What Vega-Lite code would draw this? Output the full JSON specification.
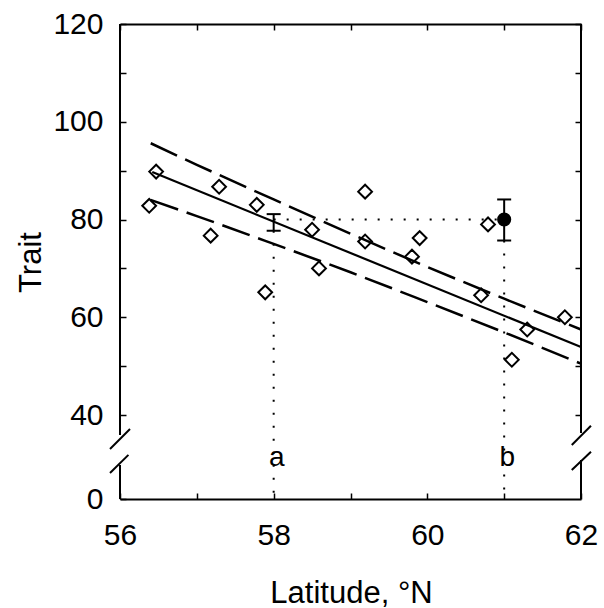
{
  "$schema": "https://vega.github.io/schema/vega-lite/v6.json",
  "width": 461,
  "height": 475,
  "autosize": {"type": "none"},
  "padding": {"left": 120, "top": 24, "right": 23, "bottom": 109},
  "background": "white",
  "config": {
    "view": {"stroke": null},
    "font": "Liberation Sans",
    "axis": {"domainColor": "black", "tickColor": "black", "labelColor": "black", "titleColor": "black", "grid": false, "labelFont": "Liberation Sans", "titleFont": "Liberation Sans"}
  },
  "datasets": {
    "populations": [
      {"latitude": 56.38, "trait": 82.8},
      {"latitude": 56.47, "trait": 89.8},
      {"latitude": 57.29, "trait": 86.7},
      {"latitude": 57.18, "trait": 76.7},
      {"latitude": 57.78, "trait": 83.0},
      {"latitude": 57.89, "trait": 65.1},
      {"latitude": 58.50, "trait": 77.9},
      {"latitude": 58.59, "trait": 70.0},
      {"latitude": 59.19, "trait": 85.7},
      {"latitude": 59.19, "trait": 75.5},
      {"latitude": 59.90, "trait": 76.2},
      {"latitude": 59.80, "trait": 72.4},
      {"latitude": 60.79, "trait": 79.0},
      {"latitude": 60.70, "trait": 64.5},
      {"latitude": 61.30, "trait": 57.5},
      {"latitude": 61.79, "trait": 60.0},
      {"latitude": 61.10, "trait": 51.3}
    ],
    "fit": [
      {"band": "fit", "latitude": 56.42, "trait": 89.7},
      {"band": "fit", "latitude": 62.0, "trait": 53.9},
      {"band": "upper", "latitude": 56.4, "trait": 95.6},
      {"band": "upper", "latitude": 57.0, "trait": 91.2},
      {"band": "upper", "latitude": 58.0, "trait": 84.1},
      {"band": "upper", "latitude": 59.0, "trait": 77.1},
      {"band": "upper", "latitude": 60.0, "trait": 70.3},
      {"band": "upper", "latitude": 61.0, "trait": 63.8},
      {"band": "upper", "latitude": 62.0, "trait": 57.5},
      {"band": "lower", "latitude": 56.4, "trait": 84.0},
      {"band": "lower", "latitude": 57.0, "trait": 80.7},
      {"band": "lower", "latitude": 58.0, "trait": 75.0},
      {"band": "lower", "latitude": 59.0, "trait": 69.2},
      {"band": "lower", "latitude": 60.0, "trait": 63.1},
      {"band": "lower", "latitude": 61.0, "trait": 56.9},
      {"band": "lower", "latitude": 62.0, "trait": 50.5}
    ],
    "guides": [
      {"latitude": 58, "latitude2": 61, "trait": 80, "trait2": 80},
      {"latitude": 58, "latitude2": 58, "trait": 77.7, "trait2": 0},
      {"latitude": 61, "latitude2": 61, "trait": 75.7, "trait2": 0}
    ],
    "estimates": [
      {"site": "a", "latitude": 58, "trait": 79.5, "lower": 77.7, "upper": 81.1},
      {"site": "b", "latitude": 61, "trait": 80, "lower": 75.7, "upper": 84.1}
    ],
    "labels": [
      {"site": "a", "latitude": 58, "trait": 15.8},
      {"site": "b", "latitude": 61, "trait": 15.8}
    ],
    "frame": [
      {"latitude": 56, "latitude2": 56, "trait": 0, "trait2": 16.2},
      {"latitude": 56, "latitude2": 56, "trait": 30.5, "trait2": 120},
      {"latitude": 62, "latitude2": 62, "trait": 0, "trait2": 18.6},
      {"latitude": 62, "latitude2": 62, "trait": 31.4, "trait2": 120},
      {"latitude": 55.87, "latitude2": 56.13, "trait": 23.8, "trait2": 33.3},
      {"latitude": 55.87, "latitude2": 56.11, "trait": 12.4, "trait2": 21.0},
      {"latitude": 61.88, "latitude2": 62.13, "trait": 25.7, "trait2": 34.9},
      {"latitude": 61.88, "latitude2": 62.13, "trait": 13.8, "trait2": 22.5}
    ]
  },
  "resolve": {"axis": {"x": "independent", "y": "independent"}},
  "layer": [
    {
      "data": {"name": "populations"},
      "mark": {"type": "point", "shape": "diamond", "filled": false, "size": 190, "stroke": "black", "strokeWidth": 2, "opacity": 1},
      "encoding": {
        "x": {"field": "latitude", "type": "quantitative", "scale": {"domain": [56, 62], "nice": false, "zero": false},
          "axis": {"orient": "bottom", "values": [56, 57, 58, 59, 60, 61, 62], "labelExpr": "datum.value % 2 === 0 ? datum.label : ''", "tickSize": -6, "tickWidth": 1.5, "domainWidth": 2, "labelPadding": 27, "labelFontSize": 30, "labelFlush": false, "labelOverlap": false, "title": "Latitude, °N", "titleFontSize": 31, "titleFontWeight": "normal", "titleX": 231, "titleY": 103, "titleBaseline": "alphabetic", "titleAlign": "center"}},
        "y": {"field": "trait", "type": "quantitative", "scale": {"domain": [0, 40, 120], "range": [475, 391, 0], "nice": false, "zero": false},
          "axis": {"orient": "left", "values": [0, 40, 50, 60, 70, 80, 90, 100, 110, 120], "labelExpr": "datum.value % 20 === 0 ? datum.label : ''", "tickSize": -6, "tickWidth": 1.5, "domain": false, "labelPadding": 23, "labelFontSize": 30, "labelFlush": false, "labelOverlap": false, "title": "Trait", "titleFontSize": 31, "titleFontWeight": "normal", "titleAngle": 270, "titleX": -80, "titleY": 238, "titleBaseline": "alphabetic", "titleAlign": "center"}}
      }
    },
    {
      "data": {"name": "fit"},
      "transform": [{"filter": "datum.band === 'fit'"}],
      "mark": {"type": "line", "stroke": "black", "strokeWidth": 2.2},
      "encoding": {
        "x": {"field": "latitude", "type": "quantitative", "scale": {"domain": [56, 62], "nice": false, "zero": false},
          "axis": {"orient": "top", "values": [56, 57, 58, 59, 60, 61, 62], "labels": false, "tickSize": -6, "tickWidth": 1.5, "domainWidth": 2, "title": null}},
        "y": {"field": "trait", "type": "quantitative", "scale": {"domain": [0, 40, 120], "range": [475, 391, 0], "nice": false, "zero": false},
          "axis": {"orient": "right", "values": [40, 50, 60, 70, 80, 90, 100, 110, 120], "labels": false, "tickSize": -6, "tickWidth": 1.5, "domain": false, "title": null}}
      }
    },
    {
      "data": {"name": "fit"},
      "transform": [{"filter": "datum.band !== 'fit'"}],
      "mark": {"type": "line", "stroke": "black", "strokeWidth": 2.5, "strokeDash": [29, 9], "interpolate": "monotone"},
      "encoding": {
        "x": {"field": "latitude", "type": "quantitative", "axis": null},
        "y": {"field": "trait", "type": "quantitative", "axis": null},
        "detail": {"field": "band"}
      }
    },
    {
      "data": {"name": "guides"},
      "mark": {"type": "rule", "stroke": "black", "strokeWidth": 2, "strokeDash": [2, 11]},
      "encoding": {
        "x": {"field": "latitude", "type": "quantitative", "axis": null},
        "x2": {"field": "latitude2"},
        "y": {"field": "trait", "type": "quantitative", "axis": null},
        "y2": {"field": "trait2"}
      }
    },
    {
      "data": {"name": "estimates"},
      "mark": {"type": "rule", "stroke": "black", "strokeWidth": 2},
      "encoding": {
        "x": {"field": "latitude", "type": "quantitative", "axis": null},
        "y": {"field": "lower", "type": "quantitative", "axis": null},
        "y2": {"field": "upper"}
      }
    },
    {
      "data": {"name": "estimates"},
      "mark": {"type": "tick", "orient": "horizontal", "color": "black", "size": 14, "thickness": 2, "opacity": 1},
      "encoding": {
        "x": {"field": "latitude", "type": "quantitative", "axis": null},
        "y": {"field": "lower", "type": "quantitative", "axis": null}
      }
    },
    {
      "data": {"name": "estimates"},
      "mark": {"type": "tick", "orient": "horizontal", "color": "black", "size": 14, "thickness": 2, "opacity": 1},
      "encoding": {
        "x": {"field": "latitude", "type": "quantitative", "axis": null},
        "y": {"field": "upper", "type": "quantitative", "axis": null}
      }
    },
    {
      "data": {"name": "estimates"},
      "transform": [{"filter": "datum.site === 'b'"}],
      "mark": {"type": "point", "shape": "circle", "filled": true, "size": 200, "color": "black", "opacity": 1},
      "encoding": {
        "x": {"field": "latitude", "type": "quantitative", "axis": null},
        "y": {"field": "trait", "type": "quantitative", "axis": null}
      }
    },
    {
      "data": {"name": "frame"},
      "mark": {"type": "rule", "stroke": "black", "strokeWidth": 2},
      "encoding": {
        "x": {"field": "latitude", "type": "quantitative", "axis": null},
        "x2": {"field": "latitude2"},
        "y": {"field": "trait", "type": "quantitative", "axis": null},
        "y2": {"field": "trait2"}
      }
    },
    {
      "data": {"name": "labels"},
      "mark": {"type": "text", "font": "Liberation Sans", "fontSize": 28, "align": "center", "baseline": "alphabetic", "dx": 3, "color": "black"},
      "encoding": {
        "x": {"field": "latitude", "type": "quantitative", "axis": null},
        "y": {"field": "trait", "type": "quantitative", "axis": null},
        "text": {"field": "site"}
      }
    }
  ]
}
